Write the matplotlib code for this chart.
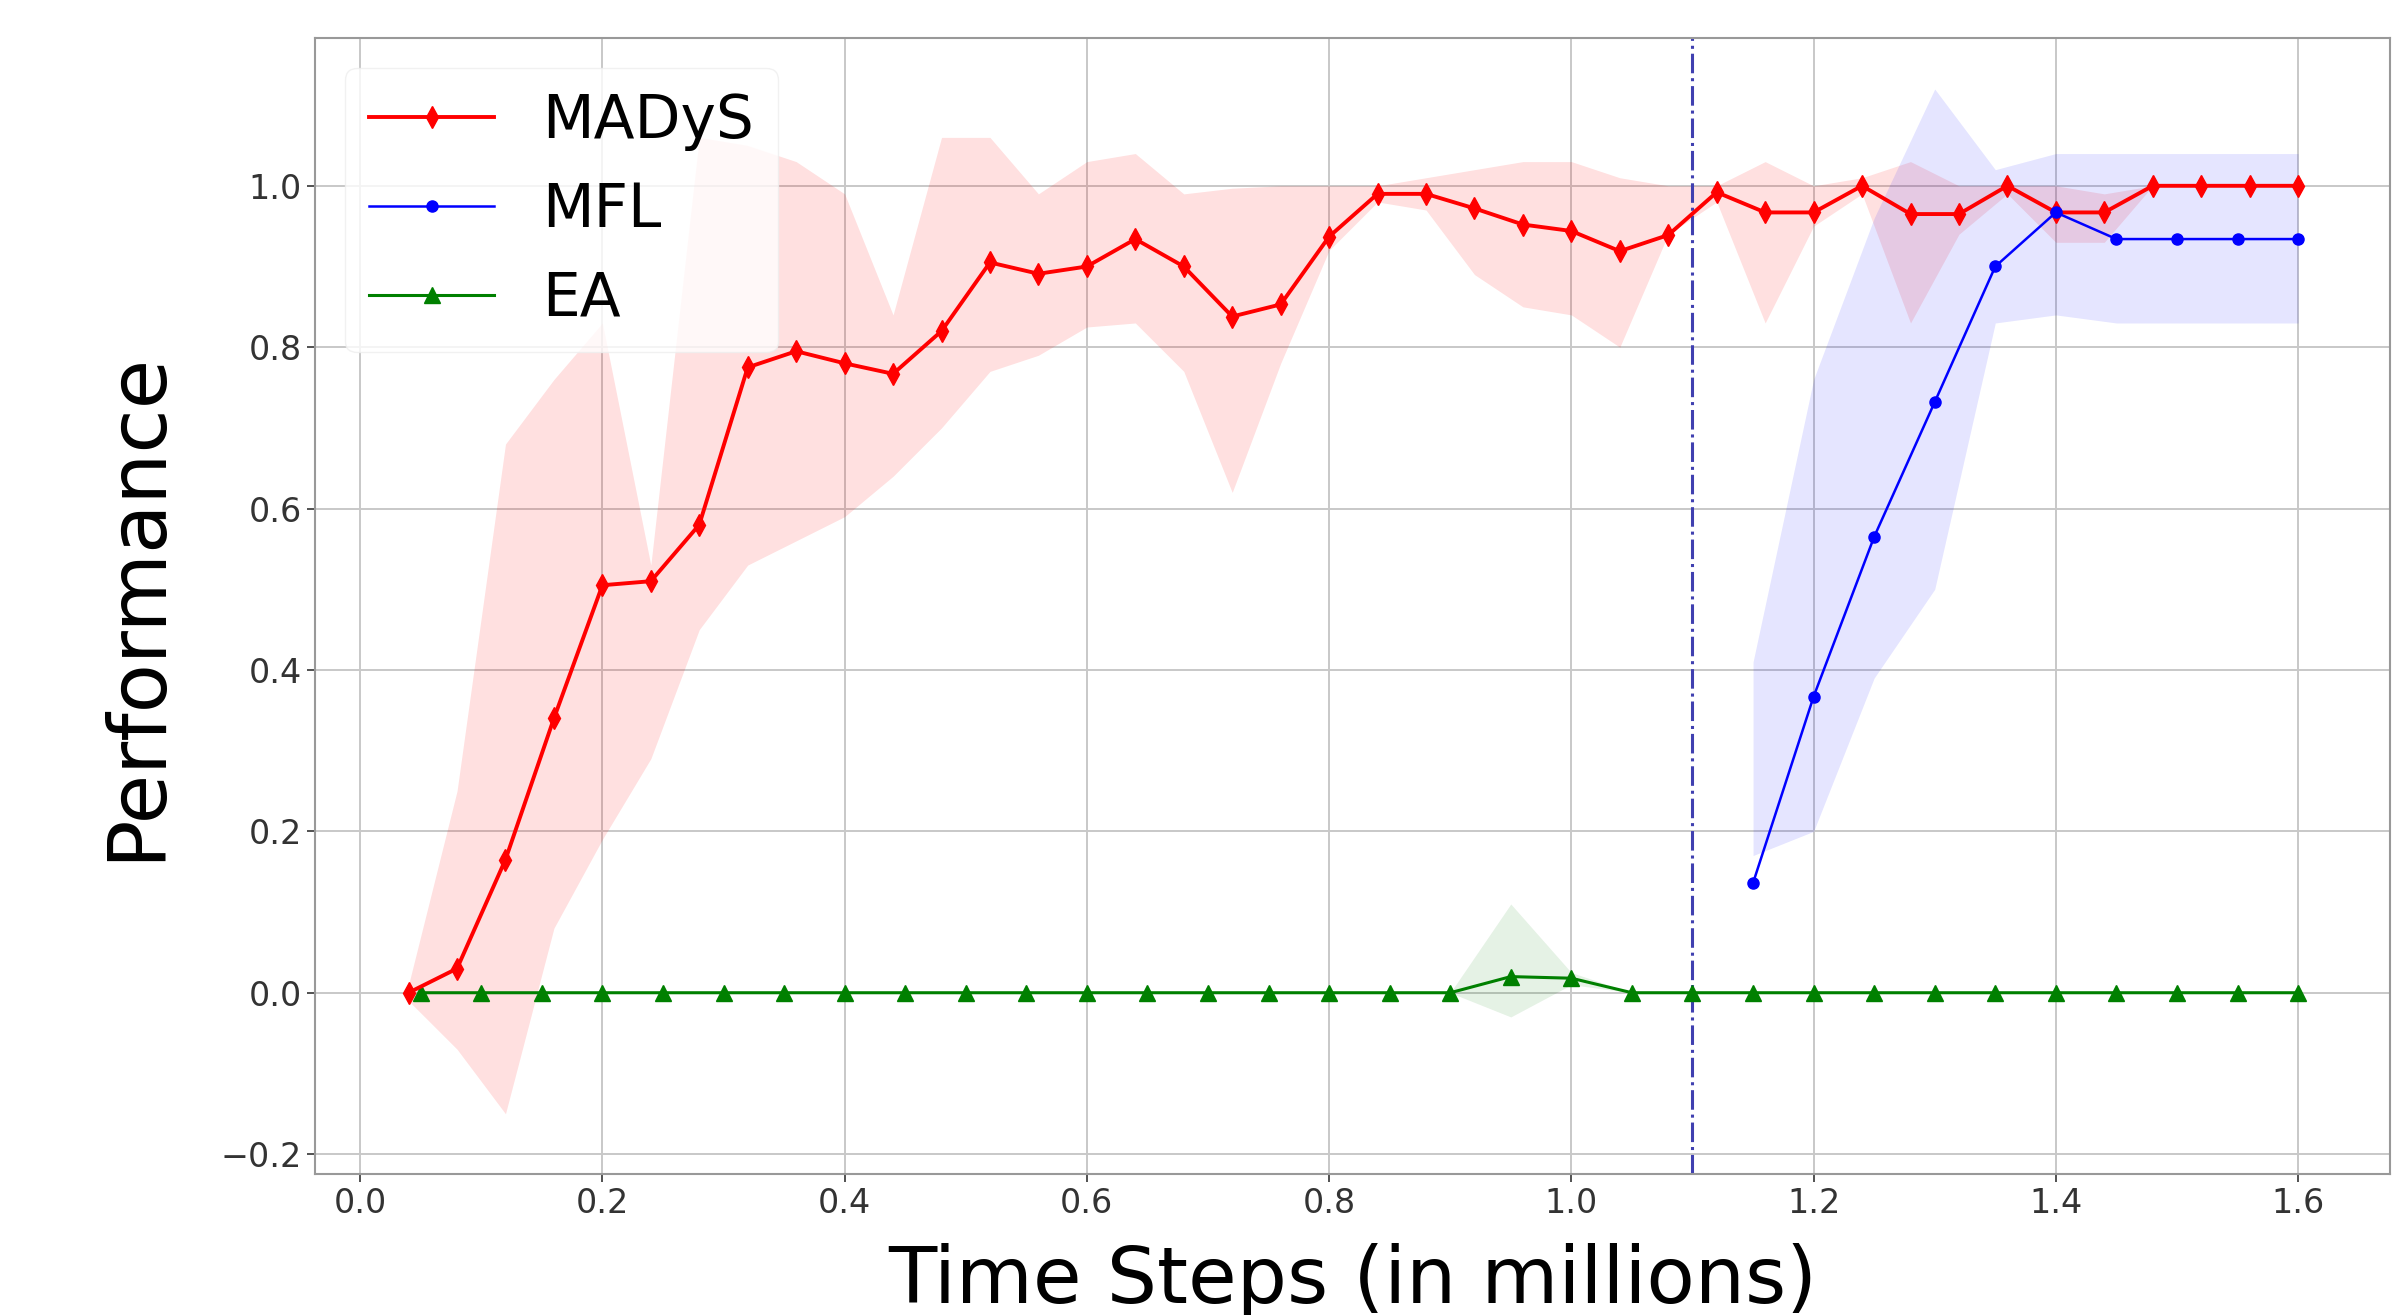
import numpy as np
import matplotlib
matplotlib.use('Agg')
import matplotlib.pyplot as plt

# MADyS: every 0.04 M steps
madys_t = [0.04, 0.08, 0.12, 0.16, 0.20, 0.24, 0.28, 0.32, 0.36, 0.40,
           0.44, 0.48, 0.52, 0.56, 0.60, 0.64, 0.68, 0.72, 0.76, 0.80,
           0.84, 0.88, 0.92, 0.96, 1.00, 1.04, 1.08, 1.12, 1.16, 1.20,
           1.24, 1.28, 1.32, 1.36, 1.40, 1.44, 1.48, 1.52, 1.56, 1.60]
madys_mean = [0.00, 0.03, 0.165, 0.34, 0.505, 0.51, 0.58, 0.775, 0.795, 0.78,
              0.767, 0.82, 0.905, 0.891, 0.90, 0.934, 0.90, 0.838, 0.853, 0.937,
              0.99, 0.99, 0.972, 0.952, 0.944, 0.919, 0.939, 0.992, 0.967, 0.967,
              1.0, 0.965, 0.965, 1.0, 0.967, 0.967, 1.0, 1.0, 1.0, 1.0]
madys_low = [-0.01, -0.07, -0.15, 0.08, 0.19, 0.29, 0.45, 0.53, 0.56, 0.59,
             0.64, 0.70, 0.77, 0.79, 0.825, 0.83, 0.77, 0.62, 0.78, 0.92,
             0.98, 0.97, 0.89, 0.85, 0.84, 0.80, 0.94, 0.98, 0.83, 0.95,
             0.99, 0.83, 0.94, 0.99, 0.93, 0.93, 1.0, 1.0, 1.0, 1.0]
madys_high = [0.01, 0.25, 0.68, 0.76, 0.83, 0.53, 1.06, 1.05, 1.03, 0.99,
              0.84, 1.06, 1.06, 0.99, 1.03, 1.04, 0.99, 0.997, 1.0, 1.0,
              1.0, 1.01, 1.02, 1.03, 1.03, 1.01, 1.0, 1.0, 1.03, 1.0,
              1.01, 1.03, 1.0, 1.0, 1.0, 0.99, 1.0, 1.0, 1.0, 1.0]

# MFL: starts after the switch at 1.1 M
mfl_t = [1.15, 1.20, 1.25, 1.30, 1.35, 1.40, 1.45, 1.50, 1.55, 1.60]
mfl_mean = [0.136, 0.367, 0.565, 0.732, 0.90, 0.967, 0.934, 0.934, 0.934, 0.934]
mfl_low = [0.17, 0.20, 0.39, 0.50, 0.83, 0.84, 0.83, 0.83, 0.83, 0.83]
mfl_high = [0.41, 0.76, 0.96, 1.12, 1.02, 1.04, 1.04, 1.04, 1.04, 1.04]

# EA: every 0.05 M steps
ea_t = [0.05, 0.10, 0.15, 0.20, 0.25, 0.30, 0.35, 0.40, 0.45, 0.50,
        0.55, 0.60, 0.65, 0.70, 0.75, 0.80, 0.85, 0.90, 0.95, 1.00,
        1.05, 1.10, 1.15, 1.20, 1.25, 1.30, 1.35, 1.40, 1.45, 1.50,
        1.55, 1.60]
ea_mean = [0.0] * 18 + [0.02, 0.018] + [0.0] * 12
ea_low = [0.0] * 18 + [-0.03, 0.01] + [0.0] * 12
ea_high = [0.0] * 18 + [0.11, 0.025] + [0.0] * 12

switch_t = 1.1

fig = plt.figure(figsize=(24.07, 13.15), dpi=100)
ax = fig.add_axes([0.131, 0.107, 0.862, 0.864])

ax.plot(madys_t, madys_mean, color='red', marker='d', markersize=11,
        linewidth=2.8, label='MADyS', zorder=4)
ax.fill_between(madys_t, madys_low, madys_high, color='red', alpha=0.12,
                linewidth=0)

ax.plot(mfl_t, mfl_mean, color='blue', marker='o', markersize=8,
        linewidth=1.8, label='MFL', zorder=4)
ax.fill_between(mfl_t, mfl_low, mfl_high, color='blue', alpha=0.1,
                linewidth=0)

ax.plot(ea_t, ea_mean, color='green', marker='^', markersize=11,
        linewidth=2.2, label='EA', zorder=3)
ax.fill_between(ea_t, ea_low, ea_high, color='green', alpha=0.1,
                linewidth=0)

ax.axvline(switch_t, color='#4040b0', linestyle='-.', linewidth=2.2)

ax.set_xlim(-0.037, 1.676)
ax.set_ylim(-0.225, 1.183)
ax.set_xticks(np.arange(0.0, 1.61, 0.2))
ax.set_yticks(np.arange(-0.2, 1.01, 0.2))
ax.tick_params(labelsize=24, colors='#333333', length=6, width=1.2)
ax.grid(True, color='#c8c8c8', linewidth=1.4)
ax.set_axisbelow(True)
for s in ax.spines.values():
    s.set_color('#999999')
    s.set_linewidth(1.5)

ax.set_xlabel('Time Steps (in millions)', fontsize=57, labelpad=16)
ax.set_ylabel('Performance', fontsize=58, labelpad=32)

ax.legend(loc='upper left', fontsize=43, handlelength=2.1,
          framealpha=0.8, edgecolor='#eeeeee', borderpad=0.4,
          labelspacing=0.5)

fig.savefig('out.png', dpi=100)
